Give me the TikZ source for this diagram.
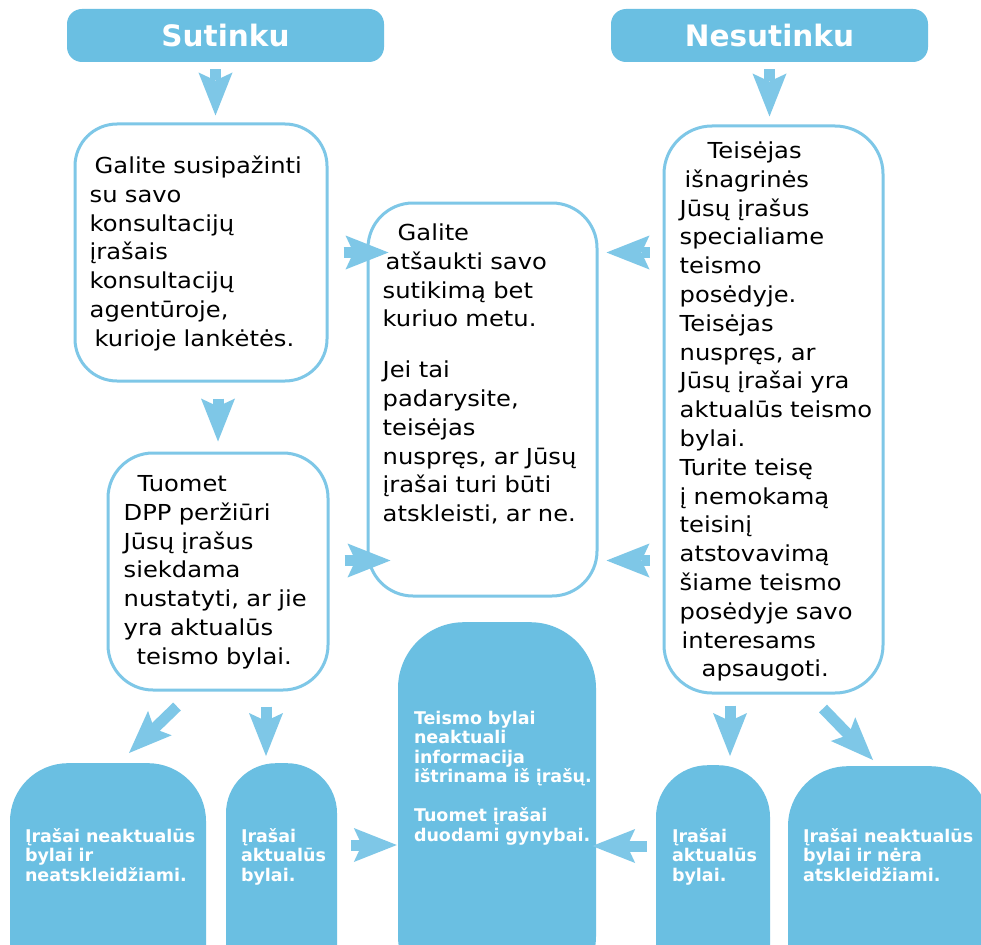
\documentclass[tikz,border=0pt]{standalone}
\usepackage{fontspec}
\setmainfont{DejaVu Sans}
\newfontfamily\widesans{DejaVu Sans}[FakeStretch=1.1]
\usepackage{tikz}
\usetikzlibrary{arrows.meta,calc}
\definecolor{fillblue}{RGB}{106,191,226}
\definecolor{lineblue}{RGB}{126,199,231}

\begin{document}
\begin{tikzpicture}[
    x=1pt, y=-1pt,
    headbox/.style={rectangle, fill=fillblue, rounded corners=15pt, inner sep=0pt, minimum width=317pt, minimum height=53pt, text=white, font=\bfseries\fontsize{29.5}{34}\selectfont},
    linebox/.style={rectangle, draw=lineblue, line width=3pt, fill=white, inner sep=0pt},
    solidbox/.style={rectangle, fill=fillblue, inner sep=0pt, anchor=north, minimum height=240pt},
    bodytext/.style={anchor=base west, inner sep=0pt, align=left, font=\widesans\fontsize{22}{28.8}\selectfont},
    whitetext/.style={anchor=base west, inner sep=0pt, align=left, text width=185pt, text=white, font=\bfseries\fontsize{17.5}{19.5}\selectfont},
    bigarrow/.style={line width=11pt, draw=lineblue, -{Stealth[length=43pt, width=34pt, inset=8pt, line width=0pt 0 0]}}
]
    \useasboundingbox (0,0) rectangle (981,944);
    \clip (0,0) rectangle (981,944);
    \fill[white] (0,0) rectangle (981,944);

    % Nodes
    \node[headbox] (sut) at (225.5,35.5) {Sutinku};
    \node[headbox] (nesut) at (769.5,35.5) {Nesutinku};

    \node[linebox, rounded corners=42pt, minimum width=252pt, minimum height=257pt] (consult) at (201,252.5) {};
    \node[linebox, rounded corners=45pt, minimum width=220pt, minimum height=237pt] (dpp) at (218,571.5) {};
    \node[linebox, rounded corners=45pt, minimum width=229pt, minimum height=393pt] (cancel) at (482.5,399.5) {};
    \node[linebox, rounded corners=48pt, minimum width=219pt, minimum height=567pt] (judge) at (773.5,409.5) {};

    \node[solidbox, rounded corners=58pt, minimum width=196pt] (neatsk) at (108,763) {};
    \node[solidbox, rounded corners=50pt, minimum width=111pt] (aktual) at (281.5,763) {};
    \node[solidbox, rounded corners=66pt, minimum width=198pt, minimum height=380pt] (info) at (497,622) {};
    \node[solidbox, rounded corners=52pt, minimum width=114pt] (aktualr) at (713,765) {};
    \node[solidbox, rounded corners=60pt, minimum width=202pt] (neratsk) at (889,766) {};

    % Texts
    \node[bodytext, text width=230pt] (consult-text) at ($(consult.north west)+(16,51)$)
        {\hspace*{5pt}Galite susipažinti\\su savo\\konsultacijų\\įrašais\\konsultacijų\\agentūroje,\\\hspace*{5pt}kurioje lankėtės.};
    \node[bodytext, text width=200pt] (dpp-text) at ($(dpp.north west)+(17,40)$)
        {\hspace*{14pt}Tuomet\\DPP peržiūri\\Jūsų įrašus\\siekdama\\nustatyti, ar jie\\yra aktualūs\\\hspace*{13pt}teismo bylai.};
    \node[bodytext, text width=210pt] (cancel-text) at ($(cancel.north west)+(16,39)$)
        {\hspace*{15pt}Galite\\\hspace*{3pt}atšaukti savo\\sutikimą bet\\kuriuo metu.\\[22pt]Jei tai\\padarysite,\\teisėjas\\nuspręs, ar Jūsų\\įrašai turi būti\\atskleisti, ar ne.};
    \node[bodytext, text width=205pt] (judge-text) at ($(judge.north west)+(17,34)$)
        {\hspace*{28pt}Teisėjas\\\hspace*{5pt}išnagrinės\\Jūsų įrašus\\specialiame\\teismo\\posėdyje.\\Teisėjas\\nuspręs, ar\\Jūsų įrašai yra\\aktualūs teismo\\bylai.\\Turite teisę\\į nemokamą\\teisinį\\atstovavimą\\šiame teismo\\posėdyje savo\\\hspace*{2pt}interesams\\\hspace*{22pt}apsaugoti.};

    \node[whitetext] (neatsk-text) at ($(neatsk.north west)+(15,79)$) {Įrašai neaktualūs\\bylai ir\\neatskleidžiami.};
    \node[whitetext] (aktual-text) at ($(aktual.north west)+(15,79)$) {Įrašai\\aktualūs\\bylai.};
    \node[whitetext] (info-text) at ($(info.north west)+(16,102)$)
        {Teismo bylai\\neaktuali\\informacija\\ištrinama iš įrašų.\\[19.5pt]Tuomet įrašai\\duodami gynybai.};
    \node[whitetext] (aktualr-text) at ($(aktualr.north west)+(16,77)$) {Įrašai\\aktualūs\\bylai.};
    \node[whitetext] (neratsk-text) at ($(neratsk.north west)+(15,76)$) {Įrašai neaktualūs\\bylai ir nėra\\atskleidžiami.};

    % Arrows
    \draw[bigarrow, shorten <=7pt, shorten >=7pt] ($(sut.south)+(-10,0)$) -- ($(sut.south |- consult.north)+(-10,0)$);
    \draw[bigarrow, shorten <=7pt, shorten >=8pt] (nesut.south) -- (nesut.south |- judge.north);
    \draw[bigarrow, shorten <=16pt, shorten >=10pt] (dpp.north |- consult.south) -- (dpp.north);
    \draw[bigarrow, shorten <=15pt, shorten >=-22pt] (consult.east) -- (consult.east -| cancel.west);
    \draw[bigarrow, shorten <=15pt, shorten >=-24pt] ($(dpp.east)+(0,-11)$) -- ($(dpp.east -| cancel.west)+(0,-11)$);
    \draw[bigarrow, shorten <=13pt, shorten >=8pt] (judge.west |- consult.east) -- (cancel.east |- consult.east);
    \draw[bigarrow, shorten <=13pt, shorten >=8pt] ($(judge.west |- dpp.east)+(0,-11)$) -- ($(cancel.east |- dpp.east)+(0,-11)$);
    \draw[bigarrow] ($(dpp.south)+(-41,15)$) -- ($(neatsk.north)+(21,-10)$);
    \draw[bigarrow, shorten <=15pt, shorten >=7pt] ($(dpp.south)+(48,0)$) -- ($(dpp.south |- aktual.north)+(48,0)$);
    \draw[bigarrow, shorten <=14pt, shorten >=1pt] ($(aktual.north east)+(0,82)$) -- ($(aktual.north east -| info.west)+(0,82)$);
    \draw[bigarrow, shorten <=9pt, shorten >=-4pt] ($(aktualr.north west)+(0,81)$) -- ($(aktualr.north west -| info.east)+(0,81)$);
    \draw[bigarrow, shorten <=11pt, shorten >=9pt] ($(judge.south)+(-43.5,0)$) -- ($(judge.south |- aktualr.north)+(-43.5,0)$);
    \draw[bigarrow] ($(judge.south)+(49.5,14)$) -- ($(neratsk.north)+(-16,-6)$);

\end{tikzpicture}
\end{document}
